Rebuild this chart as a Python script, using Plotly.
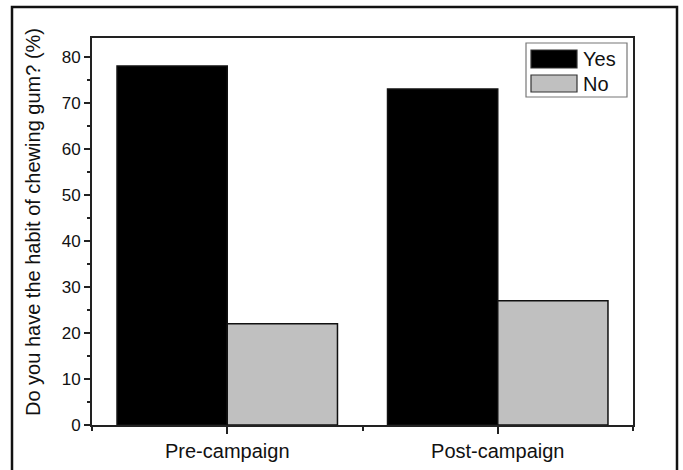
import plotly.graph_objects as go

# Survey responses (percent of respondents)
categories = ["Pre-campaign", "Post-campaign"]
series_names = ["Yes", "No"]
yes_values = [78, 73]
no_values = [22, 27]
y_ticks = [0, 10, 20, 30, 40, 50, 60, 70, 80]

colors = {"Yes": "#000000", "No": "#c0c0c0"}
positions = list(range(len(categories)))

W, H = 683, 470
L, R, T, B = 92, 50, 38, 45
pw, ph = W - L - R, H - T - B


def px_x(px):
    return (px - L) / pw


def px_y(py):
    return (H - B - py) / ph


fig = go.Figure()
for name, vals in zip(series_names, [yes_values, no_values]):
    fig.add_trace(go.Bar(
        x=positions, y=vals, name=name,
        marker=dict(color=colors[name], line=dict(color="#111111", width=1.5)),
        showlegend=False,
    ))

font = "Liberation Sans, Arial, sans-serif"

fig.update_layout(
    width=W, height=H,
    margin=dict(l=L, r=R, t=T, b=B, autoexpand=False),
    paper_bgcolor="white", plot_bgcolor="white",
    barmode="group", bargap=0.185, bargroupgap=0,
    font=dict(family=font, size=15, color="#111111"),
)

fig.update_xaxes(
    range=[-0.5, len(categories) - 0.5],
    tickmode="array", tickvals=positions, ticktext=categories,
    ticks="outside", ticklen=7, tickwidth=1.5, tickcolor="#222222",
    showline=True, linecolor="#222222", linewidth=1.8, mirror=True,
    showgrid=False, zeroline=False, automargin=False,
    tickfont=dict(size=20, family=font, color="#111111"),
    minor=dict(tickmode="array", tickvals=[p - 0.5 for p in positions] + [positions[-1] + 0.5],
               ticks="outside", ticklen=4, tickwidth=1.5, tickcolor="#222222", showgrid=False),
)

fig.update_yaxes(
    range=[0, 84.1],
    tickmode="array", tickvals=y_ticks,
    ticks="outside", ticklen=6, tickwidth=1.5, tickcolor="#222222",
    showline=True, linecolor="#222222", linewidth=1.8, mirror=True,
    showgrid=False, zeroline=False, automargin=False,
    tickfont=dict(size=17, family=font, color="#111111"),
    minor=dict(dtick=5, tick0=0, ticks="outside", ticklen=3.5, tickwidth=1.5,
               tickcolor="#222222", showgrid=False),
)

# Y axis title
fig.add_annotation(
    text="Do you have the habit of chewing gum? (%)",
    xref="paper", yref="paper", x=px_x(33), y=px_y(222),
    xanchor="center", yanchor="middle",
    textangle=-90, showarrow=False,
    font=dict(size=20, family=font, color="#111111"),
)

shapes = []
# Outer frame around the figure
shapes.append(dict(type="rect", xref="paper", yref="paper",
                   x0=px_x(12), x1=px_x(677), y0=px_y(490), y1=px_y(7),
                   line=dict(color="#111111", width=2.5), fillcolor="rgba(0,0,0,0)"))

# Legend box
shapes.append(dict(type="rect", xref="paper", yref="paper",
                   x0=px_x(526), x1=px_x(627), y0=px_y(97), y1=px_y(43),
                   line=dict(color="#777777", width=1.2), fillcolor="white"))

legend_rows = [(50, 68), (75, 92)]
for name, (top, bot) in zip(series_names, legend_rows):
    shapes.append(dict(type="rect", xref="paper", yref="paper",
                       x0=px_x(531), x1=px_x(577), y0=px_y(bot), y1=px_y(top),
                       line=dict(color="#333333", width=1.2), fillcolor=colors[name]))
    fig.add_annotation(
        text=name, xref="paper", yref="paper",
        x=px_x(581), y=px_y((top + bot) / 2), xanchor="left", yanchor="middle",
        showarrow=False, font=dict(size=20, family=font, color="#111111"),
    )

fig.update_layout(shapes=shapes)

fig.write_html("out.html")
